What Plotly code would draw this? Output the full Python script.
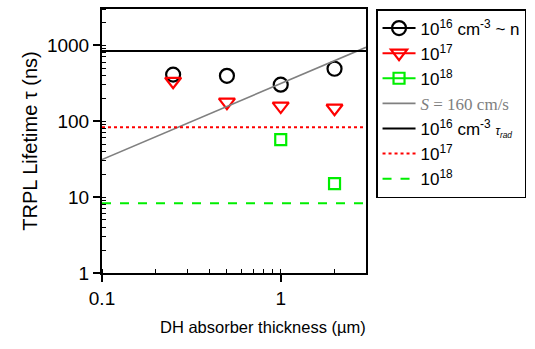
import plotly.graph_objects as go

# Data
thickness = [0.25, 0.5, 1, 2]
tau_1e16 = [410, 395, 302, 490]
tau_1e17 = [335, 178, 158, 148]
thick_1e18 = [1, 2]
tau_1e18 = [57, 15]

s_line_x = [0.1, 3]
s_line_y = [31.25, 937.5]  # S = 160 cm/s surface-limited lifetime

rad_x = [0.1, 3]
tau_rad_1e16 = 840
tau_rad_1e17 = 83
tau_rad_1e18 = 8.3

names = [
    "10<sup>16</sup> cm<sup>-3</sup> ~ n",
    "10<sup>17</sup>",
    "10<sup>18</sup>",
    "<span style=\"font-family:'Liberation Serif';color:#808080\"><i>S</i> = 160 cm/s</span>",
    "10<sup>16</sup> cm<sup>-3</sup> <span style=\"font-size:12px\"><i>τ<sub>rad</sub></i></span>",
    "10<sup>17</sup>",
    "10<sup>18</sup>",
]


def gapped(xs, ys):
    gx, gy = [], []
    for x, y in zip(xs, ys):
        gx += [x, None]
        gy += [y, None]
    return gx, gy


fig = go.Figure()

gx, gy = gapped(thickness, tau_1e16)
fig.add_trace(go.Scatter(x=gx, y=gy, mode="lines+markers", name=names[0],
                         connectgaps=False,
                         line=dict(color="black", width=2),
                         marker=dict(symbol="circle-open", size=14, color="black",
                                     line=dict(width=2.2, color="black"))))
gx, gy = gapped(thickness, tau_1e17)
fig.add_trace(go.Scatter(x=gx, y=gy, mode="lines+markers", name=names[1],
                         connectgaps=False,
                         line=dict(color="red", width=2),
                         marker=dict(symbol="triangle-down-open", size=14, color="red",
                                     line=dict(width=2.2, color="red"))))
gx, gy = gapped(thick_1e18, tau_1e18)
fig.add_trace(go.Scatter(x=gx, y=gy, mode="lines+markers", name=names[2],
                         connectgaps=False,
                         line=dict(color="#00ee00", width=2),
                         marker=dict(symbol="square-open", size=11, color="#00ee00",
                                     line=dict(width=2.2, color="#00ee00"))))
fig.add_trace(go.Scatter(x=s_line_x, y=s_line_y, mode="lines", name=names[3],
                         line=dict(color="#808080", width=1.6)))
fig.add_trace(go.Scatter(x=rad_x, y=[tau_rad_1e16] * 2, mode="lines", name=names[4],
                         line=dict(color="black", width=2)))
fig.add_trace(go.Scatter(x=rad_x, y=[tau_rad_1e17] * 2, mode="lines", name=names[5],
                         line=dict(color="red", width=2, dash="dot")))
fig.add_trace(go.Scatter(x=rad_x, y=[tau_rad_1e18] * 2, mode="lines", name=names[6],
                         line=dict(color="#00ee00", width=2, dash="dash")))

axis_common = dict(
    type="log", showgrid=False, zeroline=False,
    showline=True, linecolor="black", linewidth=2, mirror=True,
    ticks="outside", ticklen=7, tickwidth=1.5, tickcolor="black",
    tickfont=dict(family="Liberation Sans, Arial", size=19, color="black"),
    minor=dict(ticks="inside", ticklen=4, tickwidth=1.2, tickcolor="black",
               dtick="D1", showgrid=False),
)

fig.update_xaxes(**axis_common, range=[-1, 0.4771], dtick=1,
                 tickvals=[0.1, 1], ticktext=["0.1", "1"])
fig.update_yaxes(**axis_common, range=[0, 3.4771], dtick=1,
                 tickvals=[1, 10, 100, 1000], ticktext=["1", "10", "100", "1000"],
                 title=dict(text="TRPL Lifetime τ (ns)", standoff=4,
                            font=dict(family="Liberation Sans, Arial", size=20, color="black")))

fig.add_annotation(text="DH absorber thickness (µm)", xref="paper", yref="paper",
                   x=0.61, y=-0.205, xanchor="center", yanchor="middle", showarrow=False,
                   font=dict(family="Liberation Sans, Arial", size=16.5, color="black"))

fig.update_layout(
    width=535, height=349,
    margin=dict(l=102, r=169, t=7, b=76),
    paper_bgcolor="white", plot_bgcolor="white",
    font=dict(family="Liberation Sans, Arial", size=17, color="black"),
    legend=dict(x=1.038, y=1.0, xanchor="left", yanchor="top",
                bordercolor="black", borderwidth=1.5, bgcolor="white",
                font=dict(family="Liberation Sans, Arial", size=17, color="black"),
                tracegroupgap=0, itemwidth=33, maxheight=400),
)

fig.write_html("out.html")
